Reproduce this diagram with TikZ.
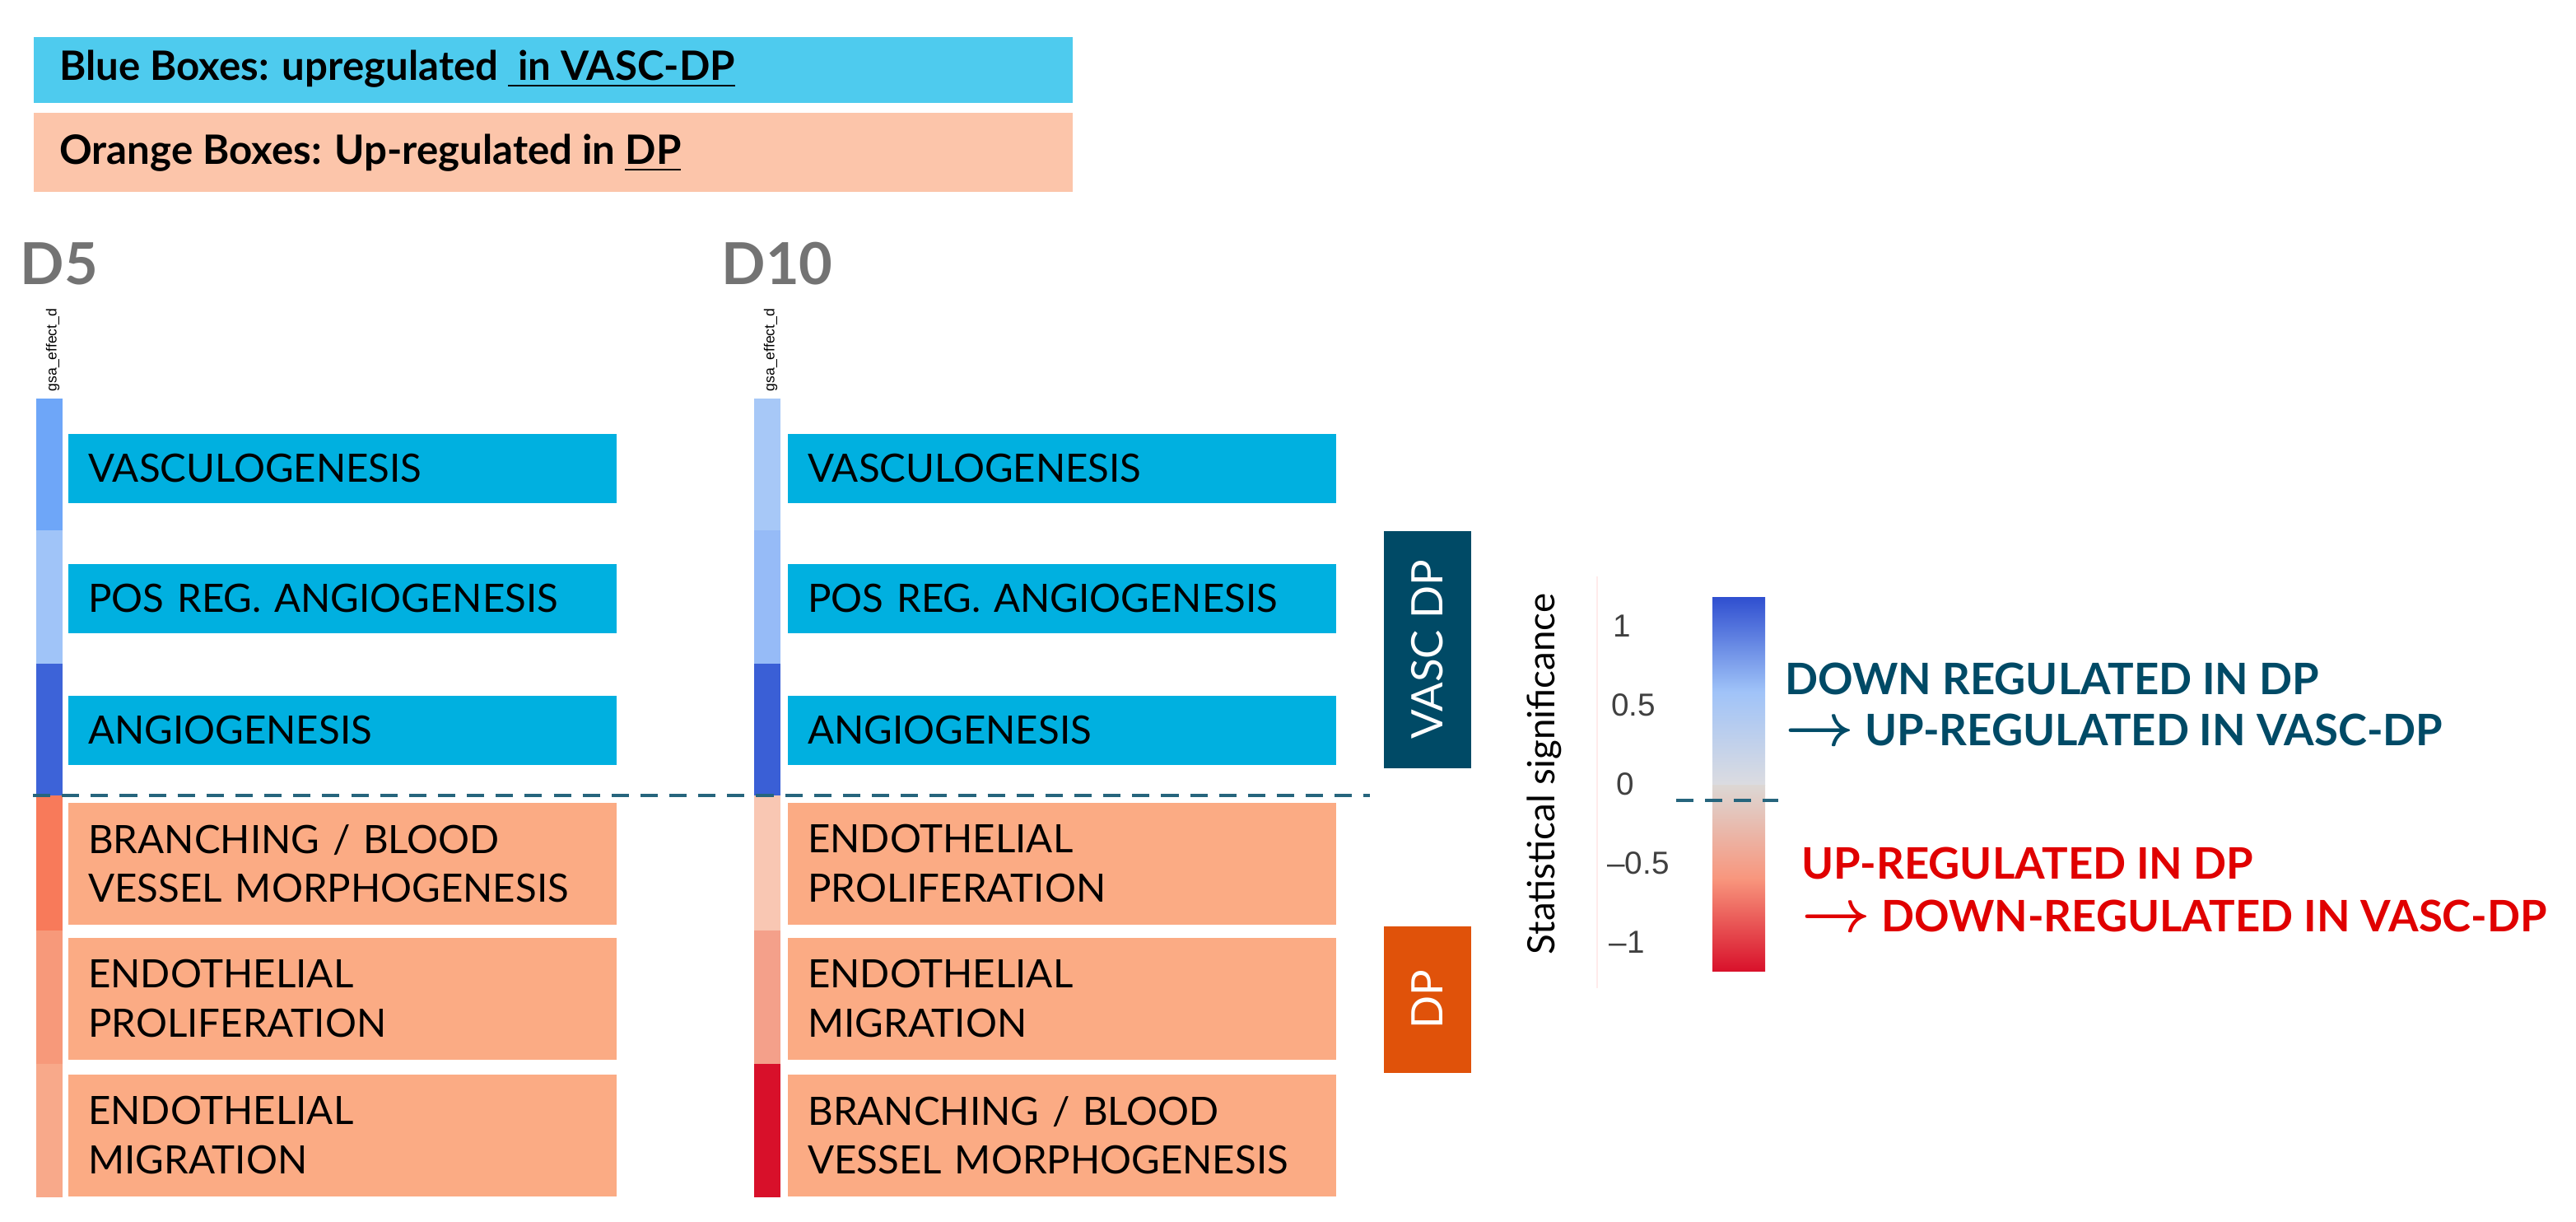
\documentclass[tikz,border=0pt]{standalone}
\usepackage{fontspec}
\setmainfont{Lato}
\newfontfamily\arialf{Liberation Sans}
\definecolor{legblue}{HTML}{4ECBEE}
\definecolor{legor}{HTML}{FCC5AA}
\definecolor{bxblue}{HTML}{00B0E0}
\definecolor{bxor}{HTML}{FBAB84}
\definecolor{teal}{HTML}{004A66}
\definecolor{dporange}{HTML}{E0520A}
\definecolor{redt}{HTML}{E00000}
\newcommand{\myarr}{{\fontsize{20}{18}\selectfont$\boldsymbol{\rightarrow}$}}
\usepackage{amsmath}
\begin{document}
\begin{tikzpicture}[x=0.02cm,y=-0.02cm,
 bx/.style={anchor=north west,inner ysep=0pt,inner xsep=7pt,minimum width=333*0.02cm,text width=333*0.02cm-14pt,align=left,font=\fontsize{13.5}{17}\selectfont},
 bb/.style={bx,fill=bxblue,minimum height=42*0.02cm},
 ob/.style={bx,fill=bxor,minimum height=74*0.02cm},
 lab/.style={font=\bfseries\fontsize{14}{17}\selectfont,anchor=west},
 tick/.style={font=\arialf\fontsize{11}{13}\selectfont,text=black!75}]
\useasboundingbox (0,0) rectangle (1564.5,742);
% legend
\node[fill=legblue,anchor=north west,minimum width=631*0.02cm,minimum height=40*0.02cm,inner sep=0pt] (l1) at (20,22) {};
\node[lab] (l1t) at (30,42) {Blue Boxes: upregulated \underline{\ in VASC-DP}};
\node[fill=legor,anchor=north west,minimum width=631*0.02cm,minimum height=48*0.02cm,inner sep=0pt] (l2) at (20,68) {};
\node[lab] (l2t) at (30,93) {Orange Boxes: Up-regulated in \underline{DP}};
% headers
\node[font=\bfseries\fontsize{20}{24}\selectfont,text=black!55,anchor=west,inner sep=0pt] (d5) at (12,160) {D5};
\node[font=\bfseries\fontsize{20}{24}\selectfont,text=black!55,anchor=west,inner sep=0pt] (d10) at (438,160) {D10};
\node[rotate=90,font=\arialf\fontsize{5}{6}\selectfont,anchor=west,inner sep=0pt] (g1) at (32,238) {gsa\_effect\_d};
\node[rotate=90,font=\arialf\fontsize{5}{6}\selectfont,anchor=west,inner sep=0pt] (g2) at (468,238) {gsa\_effect\_d};
% D5 bar
\fill[fill={rgb,255:red,110;green,166;blue,248}] (22,242) rectangle (38,322);
\fill[fill={rgb,255:red,160;green,196;blue,248}] (22,322) rectangle (38,403);
\fill[fill={rgb,255:red,61;green,99;blue,216}] (22,403) rectangle (38,483);
\fill[fill={rgb,255:red,248;green,122;blue,90}] (22,483) rectangle (38,565);
\fill[fill={rgb,255:red,247;green,153;blue,122}] (22,565) rectangle (38,646);
\fill[fill={rgb,255:red,248;green,169;blue,138}] (22,646) rectangle (38,727);
% D10 bar
\fill[fill={rgb,255:red,167;green,200;blue,247}] (458,242) rectangle (474,322);
\fill[fill={rgb,255:red,150;green,187;blue,247}] (458,322) rectangle (474,403);
\fill[fill={rgb,255:red,58;green,95;blue,214}] (458,403) rectangle (474,483);
\fill[fill={rgb,255:red,249;green,199;blue,179}] (458,483) rectangle (474,565);
\fill[fill={rgb,255:red,244;green,160;blue,138}] (458,565) rectangle (474,646);
\fill[fill={rgb,255:red,216;green,16;blue,42}] (458,646) rectangle (474,727);
% D5 boxes
\node[bb] (a1) at (41,263) {VASCULOGENESIS};
\node[bb] (a2) at (41,342) {POS REG. ANGIOGENESIS};
\node[bb] (a3) at (41,422) {ANGIOGENESIS};
\node[ob] (a4) at (41,487) {BRANCHING / BLOOD\\VESSEL MORPHOGENESIS};
\node[ob] (a5) at (41,569) {ENDOTHELIAL\\PROLIFERATION};
\node[ob] (a6) at (41,652) {ENDOTHELIAL\\MIGRATION};
% D10 boxes
\node[bb] (b1) at (478,263) {VASCULOGENESIS};
\node[bb] (b2) at (478,342) {POS REG. ANGIOGENESIS};
\node[bb] (b3) at (478,422) {ANGIOGENESIS};
\node[ob] (b4) at (478,487) {ENDOTHELIAL\\PROLIFERATION};
\node[ob] (b5) at (478,569) {ENDOTHELIAL\\MIGRATION};
\node[ob] (b6) at (478,652) {BRANCHING / BLOOD\\VESSEL MORPHOGENESIS};
% dashed divider
\coordinate (dl) at (20,483); \coordinate (dr) at (832,483);
\draw[teal!85,line width=1.3pt,dash pattern=on 6pt off 4pt] (dl) -- (dr);
% side labels
\node[fill=teal,anchor=north west,minimum width=53*0.02cm,minimum height=144*0.02cm,inner sep=0pt] (vd) at (840,322) {};
\node[rotate=90,text=white,font=\fontsize{15}{18}\selectfont] (vdt) at (vd.center) {VASC DP};
\node[fill=dporange,anchor=north west,minimum width=53*0.02cm,minimum height=89*0.02cm,inner sep=0pt] (dp) at (840,562) {};
\node[rotate=90,text=white,font=\fontsize{15}{18}\selectfont] (dpt) at (dp.center) {DP};
% color scale
\node[rotate=90,font=\fontsize{13}{16}\selectfont] (ss) at (938,470) {Statistical significance};
\draw[red!8,line width=0.6pt] (970,350) -- (970,600);
\shade[top color={rgb,255:red,48;green,80;blue,208},bottom color={rgb,255:red,220;green,220;blue,224},middle color={rgb,255:red,160;green,195;blue,248}] (1040,363) rectangle (1072,477);
\shade[top color={rgb,255:red,220;green,215;blue,212},bottom color={rgb,255:red,216;green,16;blue,42},middle color={rgb,255:red,248;green,150;blue,125}] (1040,477) rectangle (1072,590);
\node[tick] (t1) at (985,380) {1};
\node[tick] (t2) at (992,428) {0.5};
\node[tick] (t3) at (987,476) {0};
\node[tick] (t4) at (995,524) {\textendash0.5};
\node[tick] (t5) at (988,572) {\textendash1};
\coordinate (cl) at (1018,486); \coordinate (cr) at (1080,486);
\draw[teal!85,line width=1.3pt,dash pattern=on 6pt off 4pt] (cl) -- (cr);
\node[lab,text=teal,font=\bfseries\fontsize{15}{18}\selectfont] (u1) at (1078,412) {DOWN REGULATED IN DP};
\node[lab,text=teal,font=\bfseries\fontsize{15}{18}\selectfont] (u2) at (1078,443) {\myarr\ UP-REGULATED IN VASC-DP};
\node[lab,text=redt,font=\bfseries\fontsize{15}{18}\selectfont] (r1) at (1088,524) {UP-REGULATED IN DP};
\node[lab,text=redt,font=\bfseries\fontsize{15}{18}\selectfont] (r2) at (1088,556) {\myarr\ DOWN-REGULATED IN VASC-DP};
\end{tikzpicture}
\end{document}
